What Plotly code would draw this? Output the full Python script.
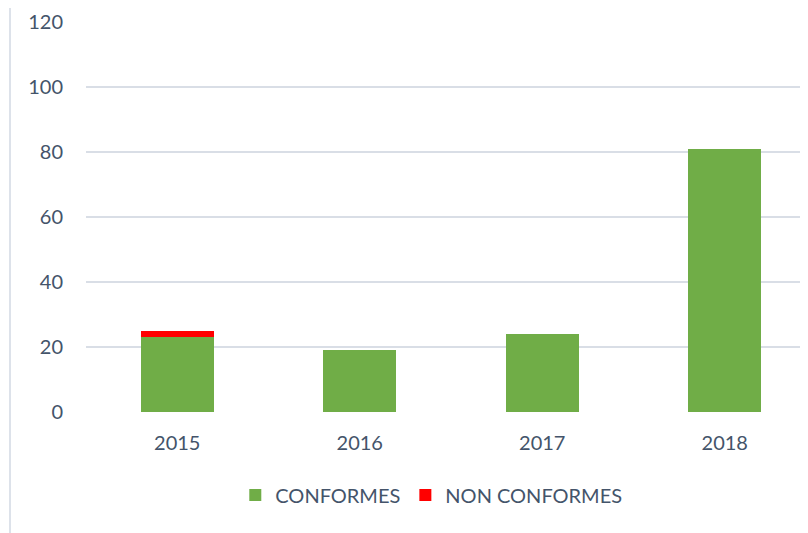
import plotly.graph_objects as go

years = ["2015", "2016", "2017", "2018"]
conformes = [23, 19, 24, 81]
non_conformes = [2, 0, 0, 0]
y_ticks = [0, 20, 40, 60, 80, 100, 120]

W, H = 808, 533
ML, MR, MT, MB = 78, 0, 14, 129
font = "Lato, 'Open Sans', sans-serif"
txt = "#44546a"

fig = go.Figure()
fig.add_trace(go.Bar(x=years, y=conformes, name="CONFORMES",
                     marker=dict(color="#70ad47", line=dict(width=0))))
fig.add_trace(go.Bar(x=years, y=non_conformes, name="NON CONFORMES",
                     marker=dict(color="#ff0000", line=dict(width=0))))

plot_w = W - ML - MR
fig.add_shape(type="line", xref="paper", yref="paper",
              x0=(2 - ML) / plot_w, x1=(2 - ML) / plot_w,
              y0=-2, y1=2, line=dict(color="#dde2ea", width=2))

fig.update_layout(
    width=W, height=H,
    margin=dict(l=ML, r=MR, t=MT, b=MB, pad=0),
    barmode="stack", bargap=0.6,
    paper_bgcolor="white", plot_bgcolor="white",
    font=dict(family=font, size=20, color=txt),
    showlegend=True,
    legend=dict(orientation="h", x=0.473, xanchor="center", y=-0.2128, yanchor="middle",
                font=dict(size=20, color=txt), traceorder="normal", itemwidth=30,
                itemsizing="constant"),
    xaxis=dict(type="category", range=[-0.5, 3.5], showgrid=False, showline=False,
               ticks="", tickfont=dict(size=20, color=txt), ticklabelstandoff=17),
    yaxis=dict(range=[0, 120], tickvals=y_ticks, showgrid=True, gridcolor="#d9dee6",
               gridwidth=2, zeroline=False, showline=False, ticks="",
               tickfont=dict(size=20, color=txt), ticklabelstandoff=22),
)
fig.write_html("out.html")
